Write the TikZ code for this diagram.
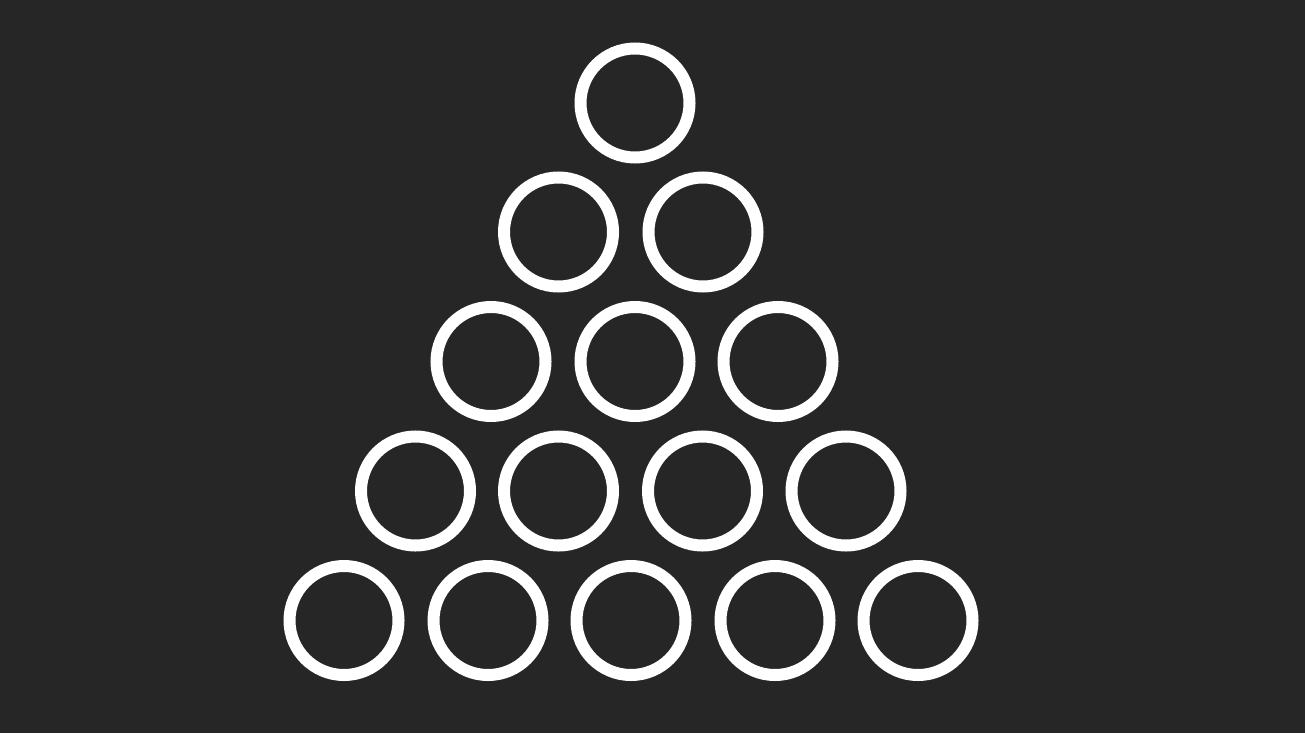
\documentclass[tikz,border=0pt]{standalone}
\definecolor{bg}{HTML}{262626}
\tikzset{ring/.style={circle,draw=white,line width=12pt,minimum size=109pt,inner sep=0pt}}
\begin{document}
\begin{tikzpicture}[x=1pt,y=-1pt]
\fill[bg] (0,0) rectangle (1305,733);
\useasboundingbox (0,0) rectangle (1305,733);
\node[ring] (a1) at (635,103) {};
\node[ring] (b1) at (558.5,232) {};
\node[ring] (b2) at (703,232) {};
\node[ring] (c1) at (491,361.5) {};
\node[ring] (c2) at (635,361.5) {};
\node[ring] (c3) at (778,361.5) {};
\node[ring] (d1) at (415.5,491) {};
\node[ring] (d2) at (558.5,491) {};
\node[ring] (d3) at (702.5,491) {};
\node[ring] (d4) at (846,491) {};
\node[ring] (e1) at (344,620.5) {};
\node[ring] (e2) at (488,620.5) {};
\node[ring] (e3) at (631,620.5) {};
\node[ring] (e4) at (775,620.5) {};
\node[ring] (e5) at (918,620.5) {};
\end{tikzpicture}
\end{document}
